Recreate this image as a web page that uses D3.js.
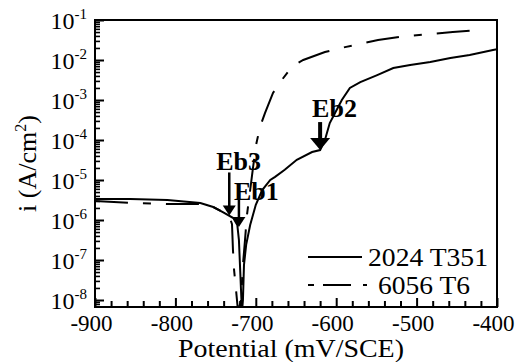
<!DOCTYPE html>
<html>
<head>
<meta charset="utf-8">
<script src="https://cdn.jsdelivr.net/npm/d3@7"></script>
<style>
  html, body { margin: 0; padding: 0; background: #fff; }
  svg { display: block; }
</style>
</head>
<body>
<svg id="chart" width="518" height="362" font-family="'Liberation Serif', 'Times New Roman', serif"></svg>
<script>
// ---- data ----
const xTickValues = [-900, -800, -700, -600, -500, -400];
const yTickExponents = [-1, -2, -3, -4, -5, -6, -7, -8];

const potential2024 = [-900, -856, -810, -769, -753, -741, -728, -723, -721, -718.4, -717.2, -716, -714.7, -712, -707, -700, -692, -682, -676, -664, -649, -630, -620, -614, -608, -593, -583, -570, -549, -529, -508, -483, -458, -434, -405, -400];
const current2024   = [3.35e-6, 3.35e-6, 3.16e-6, 2.66e-6, 2.11e-6, 1.58e-6, 1.12e-6, 7.5e-7, 3.2e-7, 1.8e-8, 5e-9, 1e-8, 7.5e-8, 2.4e-7, 7.5e-7, 2.4e-6, 5.6e-6, 1e-5, 1.2e-5, 1.8e-5, 3.2e-5, 5e-5, 5.6e-5, 1e-4, 2.66e-4, 1e-3, 2e-3, 2.8e-3, 4.2e-3, 6.3e-3, 7.5e-3, 8.9e-3, 1.12e-2, 1.33e-2, 1.78e-2, 1.85e-2];

const potential6056 = [-900, -856, -810, -769, -753, -741, -733, -729.6, -728.4, -727, -724.6, -722, -718.4, -716, -713.4, -711, -707, -703.5, -699.7, -694.8, -688.6, -678.6, -666, -654, -641, -614, -589, -548, -521, -455, -425];
const current6056   = [2.99e-6, 2.66e-6, 2.5e-6, 2.5e-6, 2.11e-6, 1.58e-6, 1.26e-6, 7.9e-7, 1.78e-7, 5.6e-8, 1.78e-8, 5e-9, 1e-8, 7.5e-8, 3.2e-7, 1.33e-6, 5.6e-6, 2e-5, 7.5e-5, 2.1e-4, 4.7e-4, 1.5e-3, 3.5e-3, 7.1e-3, 1e-2, 1.58e-2, 2.1e-2, 3.16e-2, 3.8e-2, 5e-2, 5.6e-2];

const seriesNames = ["2024 T351", "6056 T6"];

const annotationLabels = ["Eb3", "Eb1", "Eb2"];
const annotationPotential = [-733, -721, -620];
const annotationCurrent = [1.3e-6, 6.7e-7, 5.6e-5];

// ---- layout ----
const W = 518, H = 362;
const margin = { left: 95, right: 21, top: 20, bottom: 55 };
const iw = W - margin.left - margin.right;
const ih = H - margin.top - margin.bottom;
const FONT = "'Liberation Serif', 'Times New Roman', serif";

const svg = d3.select("#chart");
const g = svg.append("g").attr("transform", `translate(${margin.left},${margin.top})`);

const x = d3.scaleLinear().domain([-900, -400]).range([0, iw]);
const y = d3.scaleLog().domain([Math.pow(10, -8.175), 1e-1]).range([ih, 0]);

svg.append("defs").append("clipPath").attr("id", "clip")
  .append("rect").attr("x", 0).attr("y", 0).attr("width", iw).attr("height", ih);

// ---- axes ----
const xAxis = d3.axisBottom(x).tickValues(xTickValues).tickSizeInner(-9).tickSizeOuter(0).tickFormat(d => d);
const gx = g.append("g").attr("transform", `translate(0,${ih})`).call(xAxis)
  .attr("font-family", FONT).attr("font-size", 23);
gx.select(".domain").remove();
gx.selectAll(".tick line").attr("stroke", "#000").attr("stroke-width", 2);
gx.selectAll(".tick text").attr("fill", "#000").attr("y", 0).attr("dy", 24).attr("dx", -4);

const xMinor = d3.range(-880, -400, 20).filter(v => v % 100 !== 0);
const gxm = g.append("g").attr("transform", `translate(0,${ih})`)
  .call(d3.axisBottom(x).tickValues(xMinor).tickSizeInner(-6).tickSizeOuter(0).tickFormat(""));
gxm.select(".domain").remove();
gxm.selectAll(".tick line").attr("stroke", "#000").attr("stroke-width", 2);

const yMajor = yTickExponents.map(e => Math.pow(10, e));
const gy = g.append("g").call(d3.axisLeft(y).tickValues(yMajor).tickSizeInner(-9).tickSizeOuter(0).tickFormat(""));
gy.select(".domain").remove();
gy.selectAll(".tick line").attr("stroke", "#000").attr("stroke-width", 2);

yTickExponents.forEach(e => {
  const t = g.append("text")
    .attr("x", -8).attr("y", y(Math.pow(10, e)) + 9)
    .attr("text-anchor", "end").attr("font-family", FONT)
    .attr("font-size", 24).attr("fill", "#000");
  t.append("tspan").text("10");
  t.append("tspan").attr("font-size", 15).attr("dy", -10).text(String(e));
});

const yMinor = [];
for (let e = -9; e < -1; e++) for (let k = 2; k <= 9; k++) {
  const v = k * Math.pow(10, e);
  if (v >= y.domain()[0] && v <= 1e-1) yMinor.push(v);
}
const gym = g.append("g").call(d3.axisLeft(y).tickValues(yMinor).tickSizeInner(-5).tickSizeOuter(0).tickFormat(""));
gym.select(".domain").remove();
gym.selectAll(".tick line").attr("stroke", "#000").attr("stroke-width", 1.6);

g.append("rect").attr("x", 0).attr("y", 0).attr("width", iw).attr("height", ih)
  .attr("fill", "none").attr("stroke", "#000").attr("stroke-width", 2);

// ---- lines ----
const line = d3.line().x(d => x(d[0])).y(d => y(d[1]));
const data2024 = potential2024.map((p, k) => [p, current2024[k]]);
const data6056 = potential6056.map((p, k) => [p, current6056[k]]);

const plot = g.append("g").attr("clip-path", "url(#clip)");
plot.append("path").datum(data6056).attr("d", line)
  .attr("fill", "none").attr("stroke", "#000").attr("stroke-width", 2)
  .attr("stroke-dasharray", "33,15,8,15");
plot.append("path").datum(data2024).attr("d", line)
  .attr("fill", "none").attr("stroke", "#000").attr("stroke-width", 2);

// ---- annotations (arrows + labels) ----
const arrowStyle = {
  "Eb3": { len: 43, ah: 10, aw: 6.5, sw: 2.5, tx: -13, ty: -45 },
  "Eb1": { len: 27, ah: 10, aw: 6.5, sw: 2.5, tx: -5,  ty: -27 },
  "Eb2": { len: 28, ah: 12, aw: 10,  sw: 4,   tx: -8,  ty: -33 }
};
annotationLabels.forEach((lab, k) => {
  const px = x(annotationPotential[k]), py = y(annotationCurrent[k]);
  const s = arrowStyle[lab];
  g.append("line").attr("x1", px).attr("x2", px).attr("y1", py - s.len).attr("y2", py - s.ah + 1)
    .attr("stroke", "#000").attr("stroke-width", s.sw);
  g.append("path").attr("d", `M${px - s.aw},${py - s.ah} L${px + s.aw},${py - s.ah} L${px},${py} Z`).attr("fill", "#000");
  g.append("text").attr("x", px + s.tx).attr("y", py + s.ty)
    .attr("font-family", FONT).attr("font-size", 26).attr("font-weight", "bold")
    .attr("fill", "#000").text(lab);
});

// ---- legend ----
const legY = [257 - margin.top, 285 - margin.top];
const legX0 = 308 - margin.left;
g.append("line").attr("x1", legX0).attr("x2", 362 - margin.left).attr("y1", legY[0]).attr("y2", legY[0])
  .attr("stroke", "#000").attr("stroke-width", 2);
g.append("line").attr("x1", legX0).attr("x2", 367 - margin.left).attr("y1", legY[1]).attr("y2", legY[1])
  .attr("stroke", "#000").attr("stroke-width", 2).attr("stroke-dasharray", "6,9,28,12,6");
const legTextX = [368 - margin.left, 378 - margin.left];
const legTextLen = [120, 92];
seriesNames.forEach((s, k) => {
  g.append("text").attr("x", legTextX[k]).attr("y", legY[k] + 9)
    .attr("font-family", FONT).attr("font-size", 25).attr("fill", "#000")
    .attr("textLength", legTextLen[k]).attr("lengthAdjust", "spacingAndGlyphs")
    .text(s);
});

// ---- axis titles ----
g.append("text").attr("x", 178 - margin.left).attr("y", 357 - margin.top)
  .attr("font-family", FONT).attr("font-size", 25).attr("fill", "#000")
  .attr("textLength", 226).attr("lengthAdjust", "spacingAndGlyphs")
  .text("Potential (mV/SCE)");
const yt = svg.append("text").attr("transform", `translate(36,${margin.top + ih / 2}) rotate(-90)`)
  .attr("text-anchor", "middle").attr("font-family", FONT).attr("font-size", 26).attr("fill", "#000");
yt.append("tspan").text("i (A/cm");
yt.append("tspan").attr("font-size", 16).attr("dy", -10).text("2");
yt.append("tspan").attr("dy", 10).text(")");
</script>
</body>
</html>
